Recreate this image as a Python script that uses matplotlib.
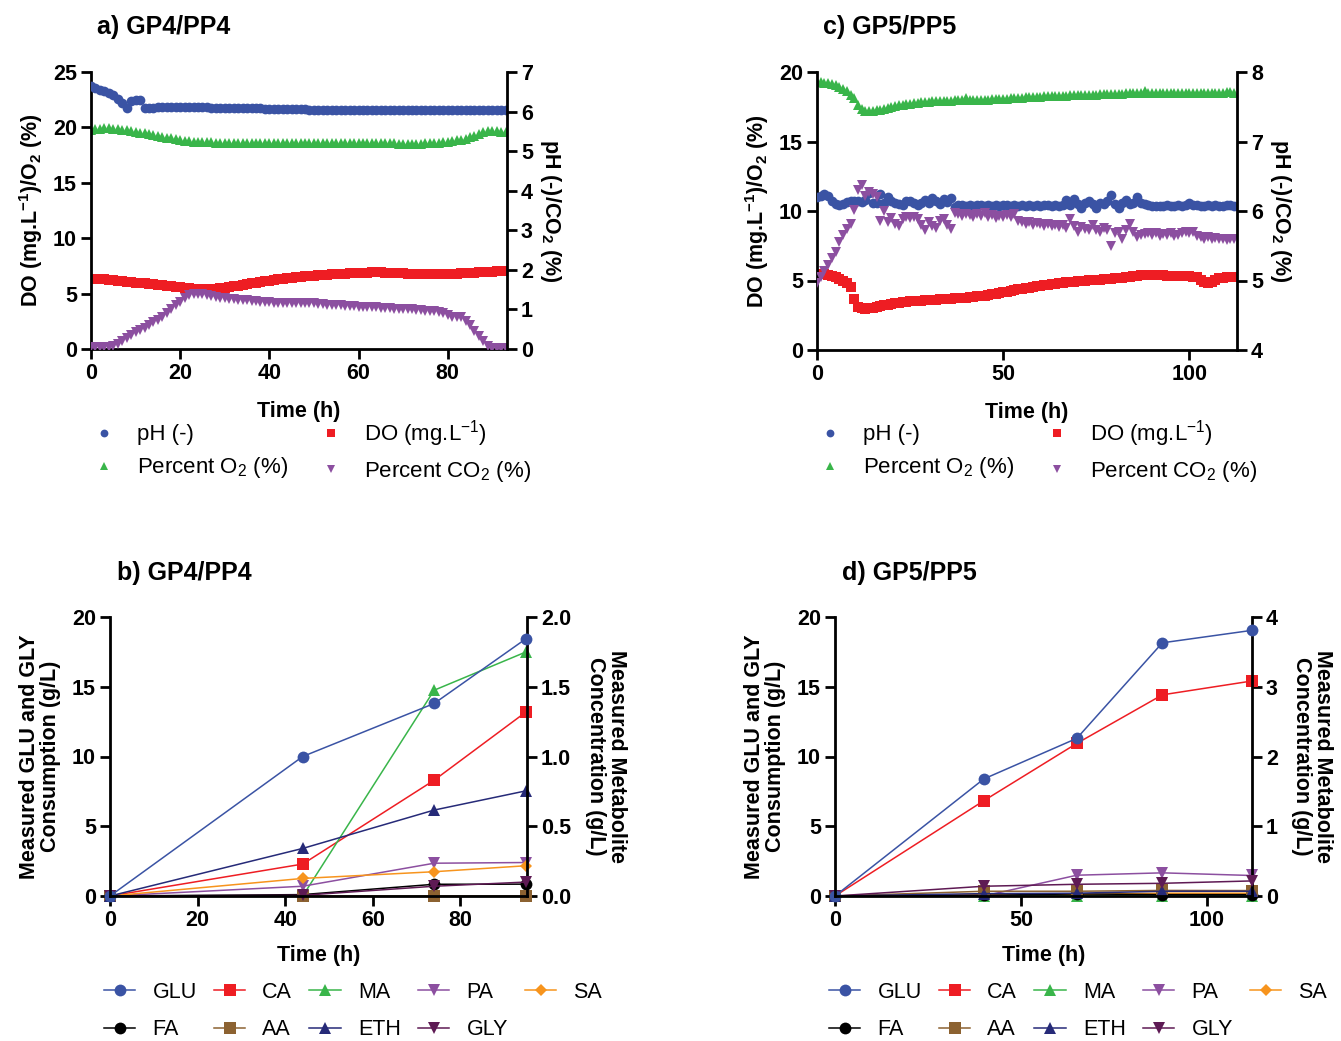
import numpy as np
import matplotlib
matplotlib.use("Agg")
import matplotlib.pyplot as plt

plt.rcParams['font.family'] = ['Liberation Sans', 'DejaVu Sans']
plt.rcParams['mathtext.fontset'] = 'custom'
plt.rcParams['mathtext.rm'] = 'Liberation Sans'
plt.rcParams['mathtext.bf'] = 'Liberation Sans:bold'

# ---------------- panel a: GP4/PP4 online sensors ----------------
time_a = np.arange(0, 94)
ph_a = [6.65, 6.60, 6.55, 6.51, 6.47, 6.42,
        6.32, 6.22, 6.08, 6.26, 6.29,
        6.30, 6.10, 6.09, 6.10, 6.11,
        6.11, 6.11, 6.11, 6.12, 6.12,
        6.12, 6.12, 6.12, 6.11, 6.11,
        6.11, 6.10, 6.10, 6.10, 6.09,
        6.09, 6.09, 6.09, 6.08, 6.08,
        6.08, 6.08, 6.08, 6.07, 6.07,
        6.07, 6.07, 6.06, 6.06, 6.06,
        6.06, 6.06, 6.06, 6.05, 6.05,
        6.05, 6.05, 6.05, 6.05, 6.05,
        6.05, 6.05, 6.04, 6.04, 6.04,
        6.04, 6.04, 6.04, 6.04, 6.04,
        6.04, 6.04, 6.04, 6.04, 6.04,
        6.04, 6.04, 6.04, 6.04, 6.04,
        6.04, 6.04, 6.04, 6.04, 6.04,
        6.04, 6.04, 6.04, 6.04, 6.03,
        6.03, 6.03, 6.03, 6.03, 6.03,
        6.03, 6.03, 6.03]
do_a = [6.35, 6.35, 6.33, 6.30, 6.25, 6.20,
        6.15, 6.10, 6.05, 6.02, 6.00,
        5.95, 5.92, 5.88, 5.85, 5.80,
        5.76, 5.72, 5.68, 5.64, 5.60,
        5.55, 5.50, 5.45, 5.42, 5.40,
        5.40, 5.42, 5.45, 5.48, 5.52,
        5.58, 5.65, 5.72, 5.80, 5.87,
        5.93, 6.00, 6.06, 6.12, 6.18,
        6.24, 6.30, 6.35, 6.40, 6.45,
        6.49, 6.53, 6.56, 6.59, 6.62,
        6.65, 6.68, 6.71, 6.74, 6.76,
        6.78, 6.80, 6.82, 6.84, 6.86,
        6.88, 6.90, 6.93, 6.95, 6.93,
        6.90, 6.88, 6.86, 6.84, 6.82,
        6.80, 6.78, 6.77, 6.76, 6.75,
        6.75, 6.76, 6.78, 6.78, 6.77,
        6.78, 6.80, 6.82, 6.85, 6.88,
        6.90, 6.92, 6.94, 6.96, 6.98,
        7.00, 7.02, 7.02]
o2_a = [19.80, 19.85, 19.90, 19.92, 19.92, 19.90,
        19.85, 19.80, 19.75, 19.68, 19.60,
        19.52, 19.45, 19.38, 19.30, 19.22,
        19.15, 19.08, 19.00, 18.92, 18.85,
        18.80, 18.75, 18.72, 18.70, 18.68,
        18.66, 18.64, 18.62, 18.61, 18.60,
        18.60, 18.60, 18.59, 18.59, 18.59,
        18.58, 18.58, 18.58, 18.57, 18.57,
        18.56, 18.56, 18.56, 18.55, 18.55,
        18.55, 18.55, 18.55, 18.55, 18.55,
        18.55, 18.55, 18.55, 18.55, 18.55,
        18.55, 18.55, 18.55, 18.55, 18.55,
        18.55, 18.55, 18.55, 18.55, 18.55,
        18.55, 18.55, 18.55, 18.54, 18.54,
        18.54, 18.54, 18.54, 18.54, 18.55,
        18.56, 18.58, 18.62, 18.66, 18.70,
        18.75, 18.82, 18.90, 18.98, 19.10,
        19.25, 19.42, 19.58, 19.68, 19.72,
        19.65, 19.58, 19.55]
co2_a = [0.04, 0.04, 0.05, 0.05, 0.06, 0.08,
         0.13, 0.20, 0.28, 0.35, 0.42,
         0.48, 0.54, 0.60, 0.67, 0.74,
         0.81, 0.90, 1.00, 1.10, 1.20,
         1.30, 1.36, 1.40, 1.40, 1.38,
         1.36, 1.34, 1.32, 1.30, 1.28,
         1.27, 1.26, 1.25, 1.24, 1.23,
         1.22, 1.21, 1.20, 1.19, 1.18,
         1.17, 1.17, 1.16, 1.16, 1.16,
         1.16, 1.16, 1.16, 1.15, 1.15,
         1.14, 1.13, 1.12, 1.11, 1.10,
         1.10, 1.09, 1.08, 1.08, 1.07,
         1.06, 1.06, 1.05, 1.05, 1.04,
         1.03, 1.03, 1.02, 1.02, 1.01,
         1.00, 1.00, 0.99, 0.98, 0.97,
         0.96, 0.95, 0.93, 0.90, 0.86,
         0.82, 0.81, 0.80, 0.72, 0.60,
         0.45, 0.32, 0.20, 0.08, 0.03,
         0.03, 0.03, 0.03]

# ---------------- panel c: GP5/PP5 online sensors ----------------
time_c = np.arange(0, 113)
ph_c = [6.20, 6.22, 6.25, 6.22, 6.15, 6.10, 6.08, 6.10, 6.13, 6.15,
        6.14, 6.14, 6.13, 6.16, 6.26, 6.11, 6.12, 6.25, 6.12, 6.20,
        6.14, 6.12, 6.10, 6.09, 6.14, 6.15, 6.12, 6.08, 6.12, 6.16,
        6.12, 6.19, 6.14, 6.10, 6.17, 6.13, 6.18, 6.06, 6.08, 6.08,
        6.07, 6.08, 6.07, 6.08, 6.08, 6.07, 6.08, 6.07, 6.08, 6.07,
        6.08, 6.08, 6.07, 6.08, 6.07, 6.08, 6.07, 6.08, 6.07, 6.08,
        6.07, 6.08, 6.08, 6.07, 6.08, 6.07, 6.08, 6.16, 6.08, 6.17,
        6.10, 6.05, 6.12, 6.15, 6.10, 6.05, 6.12, 6.10, 6.14, 6.23,
        6.10, 6.04, 6.12, 6.16, 6.10, 6.12, 6.20, 6.12, 6.10, 6.08,
        6.07, 6.07, 6.07, 6.07, 6.08, 6.07, 6.07, 6.08, 6.07, 6.08,
        6.12, 6.09, 6.08, 6.07, 6.07, 6.08, 6.07, 6.08, 6.07, 6.07,
        6.08, 6.08, 6.07]
do_c = [5.48, 5.46, 5.44, 5.40, 5.32, 5.24, 5.12, 4.98, 4.80, 4.55,
        3.70, 3.07, 3.00, 2.98, 3.00, 3.05, 3.10, 3.16, 3.22, 3.27,
        3.31, 3.35, 3.39, 3.43, 3.46, 3.50, 3.52, 3.54, 3.56, 3.58,
        3.60, 3.61, 3.62, 3.64, 3.65, 3.67, 3.69, 3.71, 3.73, 3.75,
        3.77, 3.80, 3.83, 3.86, 3.89, 3.92, 3.96, 4.00, 4.04, 4.08,
        4.14, 4.20, 4.26, 4.32, 4.37, 4.41, 4.45, 4.49, 4.53, 4.57,
        4.61, 4.65, 4.69, 4.73, 4.77, 4.80, 4.83, 4.86, 4.89, 4.92,
        4.95, 4.97, 4.99, 5.01, 5.03, 5.05, 5.07, 5.09, 5.11, 5.13,
        5.15, 5.18, 5.21, 5.24, 5.27, 5.30, 5.33, 5.36, 5.38, 5.40,
        5.40, 5.39, 5.38, 5.36, 5.34, 5.32, 5.30, 5.30, 5.30, 5.30,
        5.30, 5.28, 5.22, 5.05, 4.92, 4.85, 4.90, 5.05, 5.15, 5.20,
        5.22, 5.24, 5.25]
o2_c = [19.28, 19.25, 19.22, 19.20, 19.12, 19.04, 18.92, 18.80, 18.62, 18.38,
        18.10, 17.62, 17.36, 17.22, 17.18, 17.20, 17.24, 17.30, 17.36, 17.42,
        17.48, 17.54, 17.60, 17.65, 17.70, 17.73, 17.76, 17.79, 17.82, 17.85,
        17.87, 17.89, 17.90, 17.91, 17.92, 17.93, 17.94, 17.95, 17.96, 17.97,
        18.15, 17.98, 17.98, 17.99, 18.00, 18.01, 18.02, 18.03, 18.04, 18.05,
        18.06, 18.08, 18.10, 18.12, 18.14, 18.16, 18.18, 18.20, 18.21, 18.22,
        18.23, 18.24, 18.25, 18.26, 18.27, 18.28, 18.29, 18.30, 18.31, 18.32,
        18.33, 18.34, 18.35, 18.36, 18.37, 18.38, 18.39, 18.40, 18.41, 18.42,
        18.43, 18.44, 18.45, 18.46, 18.47, 18.48, 18.48, 18.49, 18.62, 18.50,
        18.50, 18.51, 18.50, 18.49, 18.50, 18.51, 18.50, 18.49, 18.48, 18.49,
        18.50, 18.50, 18.51, 18.50, 18.49, 18.50, 18.51, 18.52, 18.51, 18.52,
        18.53, 18.53, 18.52]
co2_c = [4.97, 5.05, 5.14, 5.22, 5.32, 5.41, 5.55, 5.65, 5.74, 5.82,
         6.02, 6.30, 6.37, 6.22, 6.27, 6.24, 6.20, 5.86, 6.00, 5.84,
         5.90, 5.82, 5.79, 5.88, 5.91, 5.90, 5.92, 5.89, 5.80, 5.72,
         5.84, 5.78, 5.76, 5.85, 5.89, 5.80, 5.74, 5.97, 5.95, 5.93,
         5.96, 5.94, 5.91, 5.95, 5.93, 5.97, 5.92, 5.94, 5.90, 5.93,
         5.91, 5.94, 5.92, 5.95, 5.86, 5.84, 5.82, 5.84, 5.80, 5.83,
         5.81, 5.79, 5.82, 5.78, 5.80, 5.77, 5.80, 5.76, 5.89, 5.79,
         5.70, 5.77, 5.74, 5.72, 5.80, 5.73, 5.70, 5.76, 5.72, 5.50,
         5.68, 5.70, 5.60, 5.72, 5.82, 5.70, 5.62, 5.66, 5.67, 5.69,
         5.66, 5.68, 5.64, 5.67, 5.65, 5.68, 5.64, 5.66, 5.68, 5.70,
         5.69, 5.70, 5.64, 5.62, 5.60, 5.62, 5.59, 5.61, 5.59, 5.60,
         5.58, 5.60, 5.59]

# ---------------- panels b and d: offline metabolites ----------------
time_b = [0, 44, 74, 95]
glu_b = [0, 10.0, 13.8, 18.45]       # left axis
gly_b = [0, 0.05, 0.70, 1.0]         # left axis
ca_b = [0, 0.229, 0.83, 1.32]        # right axis
ma_b = [0, 0.0, 1.475, 1.75]
pa_b = [0, 0.07, 0.235, 0.24]
sa_b = [0, 0.126, 0.174, 0.217]
fa_b = [0, 0.01, 0.084, 0.085]
aa_b = [0, 0.0, 0.0, 0.0]
eth_b = [0, 0.341, 0.616, 0.754]

time_d = [0, 40, 65, 88, 112]
glu_d = [0, 8.39, 11.3, 18.15, 19.04]
gly_d = [0, 0.70, 0.84, 0.91, 1.08]
ca_d = [0, 1.366, 2.188, 2.884, 3.082]
ma_d = [0, 0, 0, 0, 0]
pa_d = [0, 0.0, 0.298, 0.332, 0.294]
sa_d = [0, 0.024, 0.024, 0.04, 0.04]
fa_d = [0, 0.01, 0.03, 0.02, 0.02]
aa_d = [0, 0.068, 0.068, 0.08, 0.078]
eth_d = [0, 0.034, 0.04, 0.068, 0.068]

BLUE = '#3A53A4'
RED = '#EE1D23'
GREEN = '#39B54A'
PURPLE = '#8C4FA0'
ORANGE = '#F7941D'
BROWN = '#8C6231'
NAVY = '#262A78'
DKPURP = '#5E1A54'

TICK = 15.5
LAB = 15.5

fig = plt.figure(figsize=(13.41, 10.41), dpi=100)


def px_axes(x0, y0, x1, y1):
    W, H = 1341, 1041
    return fig.add_axes([x0 / W, 1 - y1 / H, (x1 - x0) / W, (y1 - y0) / H])


def style(ax, ax2):
    for a in (ax, ax2):
        for s in a.spines.values():
            s.set_linewidth(2.0)
        a.spines['top'].set_visible(False)
        a.tick_params(direction='out', length=7, width=2.0, labelsize=TICK, pad=3)
        for lab in a.get_xticklabels() + a.get_yticklabels():
            lab.set_fontweight('bold')
    ax.spines['right'].set_visible(False)
    ax2.spines['left'].set_visible(False)
    ax2.spines['bottom'].set_visible(False)


def sensor_panel(box, t, ph, do, o2, co2, ylim_l, ylim_r, yt_l, yt_r, xlim, xt, title, tx, leg_x):
    ax = px_axes(*box)
    ax2 = ax.twinx()
    ax.plot(t, do, 's', color=RED, ms=6.5, mew=0, label='DO (mg.L$^{-1}$)')
    ax.plot(t, o2, '^', color=GREEN, ms=6.5, mew=0, label='Percent O$_2$ (%)')
    ax2.plot(t, ph, 'o', color=BLUE, ms=7, mew=0, label='pH (-)')
    ax2.plot(t, co2, 'v', color=PURPLE, ms=7, mew=0, label='Percent CO$_2$ (%)')
    ax.set_xlim(*xlim)
    ax.set_ylim(*ylim_l)
    ax2.set_ylim(*ylim_r)
    ax.set_yticks(yt_l)
    ax2.set_yticks(yt_r)
    ax.set_xticks(xt)
    ax.set_xlabel('Time (h)', fontsize=LAB, fontweight='bold', labelpad=12)
    ax.set_ylabel(r'DO (mg.L$^{\mathbf{-1}}$)/O$_\mathbf{2}$ (%)', fontsize=LAB, fontweight='bold', labelpad=6)
    ax2.set_ylabel(r'pH (-)/CO$_\mathbf{2}$ (%)', fontsize=LAB, fontweight='bold', rotation=-90, labelpad=22)
    style(ax, ax2)
    fig.text(tx / 1341, 1 - 27 / 1041, title, fontsize=18, fontweight='bold', va='center', ha='left')
    h1, l1 = ax.get_legend_handles_labels()
    h2, l2 = ax2.get_legend_handles_labels()
    handles = [h2[0], h1[1], h1[0], h2[1]]
    labels = [l2[0], l1[1], l1[0], l2[1]]
    fig.legend(handles, labels, loc='upper left', bbox_to_anchor=(leg_x / 1341, 1 - 418 / 1041),
               ncol=2, frameon=False, fontsize=16, markerscale=0.8, handlelength=1.0,
               handletextpad=1.0, columnspacing=1.4, labelspacing=0.45, borderpad=0, borderaxespad=0)


sensor_panel((91, 72, 507, 349), time_a, ph_a, do_a, o2_a, co2_a,
             (0, 25), (0, 7), [0, 5, 10, 15, 20, 25], range(0, 8), (0, 93.3), [0, 20, 40, 60, 80],
             'a) GP4/PP4', 97, 93)
sensor_panel((817, 72, 1237, 350), time_c, ph_c, do_c, o2_c, co2_c,
             (0, 20), (4, 8), [0, 5, 10, 15, 20], [4, 5, 6, 7, 8], (0, 112.8), [0, 50, 100],
             'c) GP5/PP5', 823, 819)


def metab_panel(box, t, glu, gly, ca, ma, pa, sa, fa, aa, eth, ylim_r, yt_r, rfmt, xlim, xt, title, tx, leg_x):
    ax = px_axes(*box)
    ax2 = ax.twinx()
    kw = dict(lw=1.1, ms=8.5, mew=0)
    h = {}
    h['CA'], = ax2.plot(t, ca, '-s', color=RED, label='CA', **kw)
    h['MA'], = ax2.plot(t, ma, '-^', color=GREEN, label='MA', **kw)
    h['PA'], = ax2.plot(t, pa, '-v', color=PURPLE, label='PA', **kw)
    h['SA'], = ax2.plot(t, sa, '-D', color=ORANGE, label='SA', lw=1.1, ms=6.5, mew=0)
    h['FA'], = ax2.plot(t, fa, '-o', color='black', label='FA', **kw)
    h['AA'], = ax2.plot(t, aa, '-s', color=BROWN, label='AA', **kw)
    h['ETH'], = ax2.plot(t, eth, '-^', color=NAVY, label='ETH', **kw)
    h['GLY'], = ax.plot(t, gly, '-v', color=DKPURP, label='GLY', **kw)
    h['GLU'], = ax.plot(t, glu, '-o', color=BLUE, label='GLU', **kw)
    for a in (ax, ax2):
        for ln in a.get_lines():
            ln.set_clip_on(False)
    ax.set_zorder(ax2.get_zorder() + 1)
    ax.patch.set_visible(False)
    ax.set_xlim(*xlim)
    ax.set_ylim(0, 20)
    ax2.set_ylim(*ylim_r)
    ax.set_yticks([0, 5, 10, 15, 20])
    ax2.set_yticks(yt_r)
    ax2.set_yticklabels([rfmt.format(v) for v in yt_r])
    ax.set_xticks(xt)
    ax.set_xlabel('Time (h)', fontsize=LAB, fontweight='bold', labelpad=10)
    ax.set_ylabel('Measured GLU and GLY\nConsumption (g/L)', fontsize=LAB, fontweight='bold', labelpad=8,
                  linespacing=1.0)
    ax2.set_ylabel('Measured Metabolite\nConcentration (g/L)', fontsize=LAB, fontweight='bold',
                   rotation=-90, labelpad=40, linespacing=1.0)
    style(ax, ax2)
    fig.text(tx / 1341, 1 - 573 / 1041, title, fontsize=18, fontweight='bold', va='center', ha='left')
    order = ['GLU', 'FA', 'CA', 'AA', 'MA', 'ETH', 'PA', 'GLY', 'SA']
    fig.legend([h[k] for k in order], order, loc='upper left',
               bbox_to_anchor=(leg_x / 1341, 1 - 982 / 1041), ncol=5, frameon=False, fontsize=15.5,
               handlelength=1.45, handletextpad=0.8, columnspacing=0.8, labelspacing=0.75,
               borderpad=0, borderaxespad=0)


metab_panel((110, 617, 527, 896), time_b, glu_b, gly_b, ca_b, ma_b, pa_b, sa_b, fa_b, aa_b, eth_b,
            (0, 2.0), [0.0, 0.5, 1.0, 1.5, 2.0], '{:.1f}', (0, 95.2), [0, 20, 40, 60, 80],
            'b) GP4/PP4', 117, 104)
metab_panel((835, 617, 1252, 896), time_d, glu_d, gly_d, ca_d, ma_d, pa_d, sa_d, fa_d, aa_d, eth_d,
            (0, 4), [0, 1, 2, 3, 4], '{:.0f}', (0, 112.1), [0, 50, 100],
            'd) GP5/PP5', 842, 829)

fig.savefig('out.png', dpi=100)
